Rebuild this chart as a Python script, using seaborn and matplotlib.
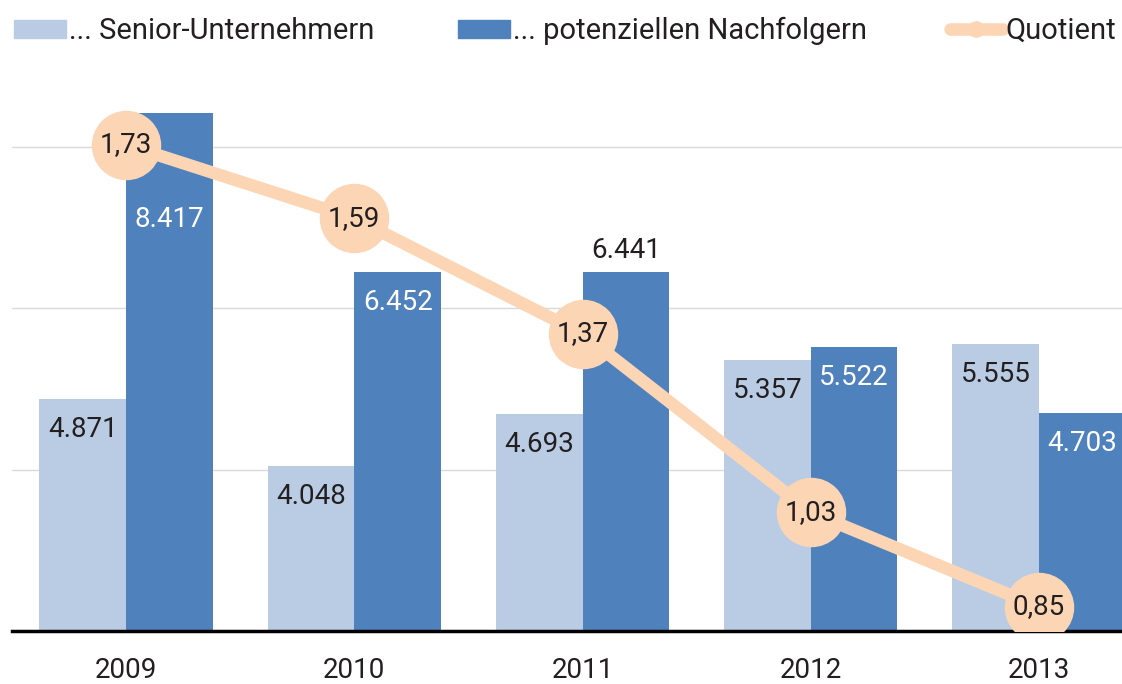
import matplotlib
matplotlib.use("Agg")
import matplotlib.pyplot as plt
import matplotlib.patches as mpatches
import matplotlib.lines as mlines
import numpy as np
import pandas as pd
import seaborn as sns

years = ["2009", "2010", "2011", "2012", "2013"]
senior = [4871, 4048, 4693, 5357, 5555]
nachfolger = [8417, 6452, 6441, 5522, 4703]
quotient = [1.73, 1.59, 1.37, 1.03, 0.85]

series_names = ["... Senior-Unternehmern", "... potenziellen Nachfolgern"]
line_name = "Quotient"

light = "#b9cce4"
dark = "#4f81bd"
peach = "#fcd5b4"
txt = "#231f20"

sns.set_theme(style="white")
plt.rcParams["font.family"] = ["Roboto", "DejaVu Sans"]

df = pd.DataFrame({
    "Jahr": years * 2,
    "Wert": senior + nachfolger,
    "Gruppe": [series_names[0]] * 5 + [series_names[1]] * 5,
})

fig = plt.figure(figsize=(11.22, 6.84), dpi=100)
ax = fig.add_axes([12 / 1122, 53 / 684, 1141 / 1122, 555 / 684])

sns.barplot(data=df, x="Jahr", y="Wert", hue="Gruppe", palette=[light, dark],
            width=0.76, gap=0, saturation=1, linewidth=0, ax=ax, legend=False)

ax.set_xlim(-0.5, 4.5)
ax.set_ylim(2000, 8875)
ax.set_yticks([2000, 4000, 6000, 8000])
ax.set_yticklabels([])
ax.tick_params(axis="y", length=0)
ax.tick_params(axis="x", length=0, pad=19, labelsize=20, labelcolor=txt)
ax.grid(axis="y", color="#d9d9d9", linewidth=1)
ax.set_axisbelow(True)
ax.set_xlabel("")
ax.set_ylabel("")
for s in ["top", "right", "left"]:
    ax.spines[s].set_visible(False)
ax.spines["bottom"].set_color("black")
ax.spines["bottom"].set_linewidth(2.5)


def fmt_de(v):
    return f"{v:,}".replace(",", ".")


# bar value labels
for ci, cont in enumerate(ax.containers):
    for i, bar in enumerate(cont):
        v = bar.get_height()
        x = bar.get_x() + bar.get_width() / 2
        color = txt if ci == 0 else "white"
        off = -22
        if ci == 1 and i == 0:
            off = -77
        if ci == 1 and i == 2:
            off = 16
            color = txt
        ax.annotate(fmt_de(int(v)), (x, v), xytext=(0, off), textcoords="offset points",
                    ha="center", va="center", fontsize=20, color=color)

ax2 = ax.twinx()
sns.lineplot(x=np.arange(len(years)), y=quotient, ax=ax2, color=peach, linewidth=9,
             marker="o", markersize=50, markeredgewidth=0, solid_capstyle="round")
ax2.set_ylim(0.804, 1.861)
ax2.set_xlim(-0.5, 4.5)
ax2.axis("off")
for i, q in enumerate(quotient):
    ax2.text(i, q, f"{q:.2f}".replace(".", ","), ha="center", va="center",
             fontsize=20, color=txt)

handles = [
    mpatches.Patch(color=light, label=series_names[0]),
    mpatches.Patch(color=dark, label=series_names[1]),
    mlines.Line2D([], [], color=peach, linewidth=9, marker="o", markersize=12,
                  markeredgewidth=0, solid_capstyle="round", label=line_name),
]
fig.legend(handles=handles, loc="upper left", bbox_to_anchor=(-0.006, 1.005), ncol=3,
           frameon=False, fontsize=21, handlelength=1.8, handleheight=0.6,
           handletextpad=0.1, columnspacing=2.85, labelcolor=txt, borderaxespad=0.3)

fig.savefig("out.png", dpi=100)
